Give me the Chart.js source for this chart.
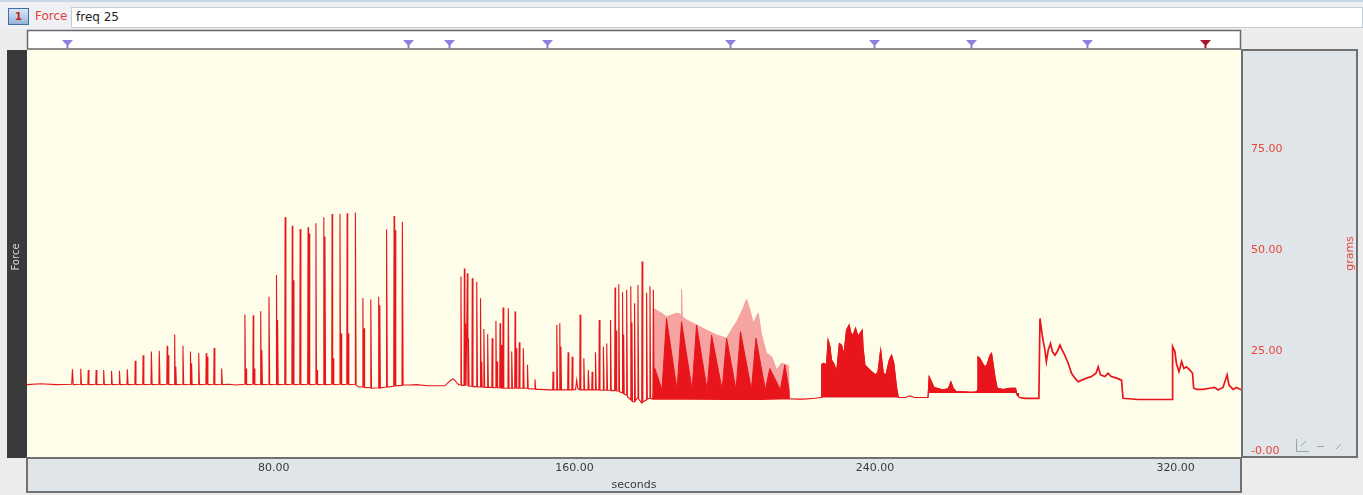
<!DOCTYPE html>
<html><head><meta charset="utf-8">
<script src="https://cdn.jsdelivr.net/npm/chart.js@4.4.1/dist/chart.umd.min.js"></script>
<style>
html,body{margin:0;padding:0;background:#ececec;width:1363px;height:495px;overflow:hidden;font-family:"DejaVu Sans",sans-serif;}
#hdr{position:absolute;left:0;top:0;width:1363px;height:29px;background:#eef0f3;border-top:2px solid #c9d6e4;box-sizing:border-box;z-index:2}
#icon{position:absolute;left:8px;top:6px;width:21px;height:17px;background:linear-gradient(#dbe8f5,#93b5da);border:1px solid #3f6fa5;box-sizing:border-box;color:#c61f1f;font:bold 10px "DejaVu Sans";text-align:center;line-height:15px}
#chan{position:absolute;left:35px;top:7px;color:#e0403c;font:12px "DejaVu Sans"}
#box{position:absolute;left:71px;top:5px;width:1292px;height:21px;background:#fff;border:1px solid #c3cbd3;box-sizing:border-box;font:12px "DejaVu Sans";padding:2px 4px;color:#1e1e1e}
canvas{position:absolute;left:0;top:0;z-index:1}
</style></head><body>
<div id="hdr"><div id="icon">1</div><div id="chan">Force</div><div id="box">freq 25</div></div>
<canvas id="c" width="1363" height="495"></canvas>
<script>
// ---- axis ticks ----
const xTickValues = [80, 160, 240, 320];
const yTickValues = [0, 25, 50, 75];
const yTickLabels = ['-0.00', '25.00', '50.00', '75.00'];
// ---- comment markers (seconds) ----
const markerTimes = [24.9, 115.7, 126.6, 152.7, 201.4, 239.7, 265.5, 296.4];
const activeMarkerTime = [327.8];

// ---- force trace, [seconds, grams] ----
const twitchTrain1 = [
 [14.3,16.6],[18,16.8],[22,16.6],[26.2,16.7],
 [26.4,20.4],[26.6,16.6],
 [28.5,16.7],[28.6,20.5],[28.8,16.6],
 [30.5,16.7],[30.6,20.2],[30.8,16.6],
 [32.6,16.7],[32.7,20.2],[32.9,16.6],
 [34.6,16.7],[34.7,20.2],[34.9,16.6],
 [36.7,16.7],[36.8,20.0],[37.0,16.6],
 [38.8,16.7],[38.9,20.0],[39.1,16.6],
 [40.9,16.7],[41.0,20.4],[41.2,16.6],
 [43.0,16.7],[43.1,22.5],[43.3,16.6],
 [45.1,16.7],[45.2,23.9],[45.4,16.6],
 [47.3,16.7],[47.4,24.8],[47.6,16.6],
 [49.4,16.7],[49.5,25.0],[49.7,16.6],
 [51.5,16.7],[51.6,26.2],[51.75,16.6],[51.9,23.9],[52.05,16.6],
 [53.5,16.7],[53.6,29.0],[53.75,16.6],[53.9,21.0],[54.05,16.6],
 [55.7,16.7],[55.8,26.2],[56.0,16.6],
 [57.7,16.7],[57.8,24.8],[57.95,16.6],[58.1,21.9],[58.25,16.6],
 [59.9,16.7],[60.0,24.4],[60.2,16.6],
 [61.9,16.7],[62.0,24.4],[62.15,16.6],[62.3,23.5],[62.45,16.6],
 [64.0,16.7],[64.1,25.7],[64.3,16.6],
 [66.0,16.7],[66.1,20.6],[66.3,16.6],
 [68,16.7],[70,16.5],
 [72.2,16.7],[72.3,34.0],[72.45,16.6],[72.6,20.6],[72.75,16.6],
 [74.4,16.7],[74.5,33.8],[74.65,16.6],[74.8,20.6],[74.95,16.6],
 [76.4,16.7],[76.5,34.8],[76.65,16.6],[76.8,25.2],[76.95,16.6],
 [78.6,16.7],[78.7,38.4],[78.9,16.6],
 [80.6,16.7],[80.7,43.8],[80.85,16.6],[81.0,32.6],[81.15,16.6],
 [82.9,16.7],[83.0,58.1],[83.2,16.6],
 [84.8,16.7],[84.9,56.0],[85.05,16.6],[85.2,42.5],[85.35,16.6],
 [86.9,16.7],[87.0,55.2],[87.2,16.6],
 [89.0,16.7],[89.1,55.6],[89.25,16.6],[89.4,54.1],[89.55,16.6],
 [91.1,16.7],[91.2,56.6],[91.35,16.6],[91.5,20.2],[91.65,16.6],
 [93.2,16.7],[93.3,58.1],[93.45,16.6],[93.6,53.3],[93.75,16.6],
 [95.4,16.7],[95.5,58.9],[95.65,16.6],[95.8,23.1],[95.95,16.6],
 [97.5,16.7],[97.6,58.9],[97.75,16.6],[97.9,29.3],[98.05,16.6],
 [99.4,16.7],[99.5,59.1],[99.65,16.6],[99.8,29.3],[99.95,16.6],
 [101.6,16.7],[101.7,59.3],[101.9,16.4],
 [102.8,16.0],
 [103.6,16.0],[103.7,38.1],[103.85,15.9],[104.0,30.6],[104.15,15.9],
 [105.7,15.8],[105.8,37.7],[106.0,15.7],
 [107.8,15.8],[107.9,38.4],[108.05,15.7],[108.2,36.3],[108.35,15.8],
 [109.9,16.0],[110.0,55.1],[110.2,16.0],
 [111.9,16.2],[112.0,58.4],[112.15,16.2],[112.3,54.9],[112.45,16.3],
 [114.1,16.4],[114.2,57.0],[114.4,16.5],
 [116,16.5],[118,16.6],[121,16.3],[124,16.3]
];
const twitchTrain2 = [
 [125.5,16.3],[126.3,17.0],[127.0,17.6],[127.7,18.0],[128.3,17.5],[128.7,17.0],[129.2,16.5],[129.7,16.6],
 [129.8,43.4],[129.95,16.4],
 [130.6,16.4],[130.7,45.4],[130.85,16.3],[131.0,31.8],[131.15,16.3],
 [131.4,16.3],[131.5,44.2],[131.65,16.2],[131.8,28.1],[131.95,16.2],
 [132.7,16.2],[132.8,43.0],[133.0,16.1],
 [133.9,16.1],[134.0,42.1],[134.2,16.0],
 [134.9,16.0],[135.0,38.0],[135.15,16.0],[135.3,22.3],[135.45,16.0],
 [135.8,16.0],[135.9,30.4],[136.1,15.9],
 [136.8,15.9],[136.9,29.1],[137.1,15.9],
 [138.0,15.9],[138.1,28.1],[138.3,15.8],
 [139.0,15.8],[139.1,32.4],[139.25,15.8],[139.4,22.3],[139.55,15.8],
 [140.1,15.8],[140.2,31.8],[140.35,15.7],[140.5,26.4],[140.65,15.7],
 [140.9,15.7],[141.0,35.7],[141.2,15.7],
 [142.3,15.7],[142.4,35.5],[142.6,15.7],
 [143.2,15.7],[143.3,24.8],[143.5,15.7],
 [144.1,15.7],[144.2,34.7],[144.35,15.7],[144.5,25.6],[144.65,15.7],
 [145.2,15.7],[145.3,27.1],[145.5,15.7],
 [146.3,15.7],[146.4,25.6],[146.6,15.7],
 [147.4,15.7],[147.5,21.5],[147.7,15.6],
 [149.4,15.5],[149.5,17.9],[149.7,15.4],
 [151,15.4],[153,15.3],
 [154.2,15.3],[154.3,19.8],[154.5,15.3],
 [155.2,15.3],[155.3,31.4],[155.5,15.3],
 [156.0,15.3],[156.1,31.8],[156.25,15.3],[156.4,26.0],[156.55,15.3],
 [158.2,15.3],[158.3,24.6],[158.5,15.3],
 [159.3,15.3],[159.4,23.5],[159.6,15.3],
 [160.3,15.4],[160.6,17.7],[160.9,15.6],
 [161.4,15.3],[161.5,33.9],[161.7,15.3],
 [162.4,15.3],[162.5,23.1],[162.7,15.3],
 [163.6,15.3],[163.7,20.2],[163.9,15.3],
 [164.6,15.3],[164.7,19.8],[164.9,15.3],
 [165.5,15.3],[165.6,24.6],[165.8,15.3],
 [166.5,15.3],[166.6,32.6],[166.8,15.2],
 [167.6,15.2],[167.7,26.0],[167.9,15.2],
 [168.5,15.2],[168.6,26.8],[168.8,15.2],
 [169.5,15.2],[169.6,32.6],[169.8,15.1],
 [170.7,15.1],[170.8,40.7],[170.95,15.0],[171.1,30.0],[171.25,15.0],
 [171.7,15.0],[171.8,41.5],[172.0,14.8],
 [172.7,14.6],[172.8,39.5],[172.95,14.4],[173.1,29.0],[173.25,14.2],
 [173.8,14.0],[173.9,40.1],[174.1,13.6],
 [174.9,12.9],[175.0,41.0],[175.15,12.6],[175.3,32.0],[175.45,12.4],
 [175.9,12.3],[176.0,36.8],[176.2,12.6],
 [176.8,13.3],[176.9,41.3],[177.1,13.0],
 [177.9,12.0],[178.0,47.1],[178.2,12.3],
 [179.1,12.8],[179.2,39.4],[179.4,13.0],
 [180.0,13.2],[180.1,41.0],[180.3,13.2],
 [180.9,13.0],[181.0,40.1],[181.2,13.0]
];
const tetanusBaseline = [
 [183,13.0],[190,13.0],[200,12.9],[210,12.9],[217.2,13.1],[219,13.0],[221,13.0],[224,13.2],[225.6,13.4]
];
const tetanusEnvelope = [
 [180.9,13.0],[181.0,35.5],[183.2,34.3],[184.5,33.4],[187.2,34.3],[188.4,34.0],[188.5,40.2],[188.7,33.5],
 [189.9,32.6],[192.5,31.4],[195.2,30.1],[197.8,28.9],[200.5,28.1],[202.3,31.0],[203.2,32.2],[204.9,35.5],
 [205.8,37.7],[206.7,35.1],[207.6,31.8],[208.9,34.3],[209.8,28.9],[211.1,24.4],[212.5,23.5],[213.8,20.2],
 [215.1,21.9],[216.5,21.5],[217.0,21.3],[217.2,13.4]
];
const tetanusTwitches = [
 [180.9,13.0],[181.4,20.6],[183.3,15.3],[184.5,33.0],[187.3,15.3],[188.5,32.2],[191.3,15.3],[192.5,31.4],
 [195.3,15.3],[196.5,28.9],[199.3,15.3],[200.5,28.1],[203.0,15.3],[204.2,29.7],[207.1,15.3],[208.3,28.1],
 [210.8,15.3],[212.0,20.6],[214.8,15.3],[216.0,21.5],[217.1,15.3],[217.2,13.2]
];
const burstA = [
 [225.7,13.4],[225.8,21.5],[226.2,21.9],[227.1,21.5],[227.5,27.7],[228.0,26.0],[228.4,22.7],[229.0,21.9],
 [229.8,19.8],[230.5,26.8],[231.1,26.4],[231.7,23.9],[232.4,30.1],[233.1,31.4],[233.6,29.3],[234.2,28.9],
 [234.8,30.6],[235.5,28.5],[236.0,29.3],[236.6,30.1],[236.8,26.0],[237.3,21.5],[238.2,20.6],[239.1,19.8],
 [240.2,19.0],[240.8,19.8],[241.5,25.2],[242.2,19.4],[242.9,19.0],[243.8,22.7],[244.4,23.9],[245.0,21.9],
 [245.7,16.1],[246.2,13.4]
];
const restBaseline = [[248,13.4],[249.3,13.8],[250.5,13.4],[253.9,13.4]];
const burstB = [
 [254.1,13.4],[254.4,18.6],[255.0,17.3],[255.7,15.9],[256.8,15.6],[258.1,15.25],[259.5,15.6],[260.2,17.3],
 [260.8,15.7],[261.7,14.8],[263.5,14.8],[265.7,14.7],[267.0,14.8],[267.3,15.25],[267.4,23.5],[267.9,23.1],
 [268.6,21.9],[269.2,21.0],[269.8,21.5],[270.6,23.9],[271.0,24.4],[271.4,21.9],[271.9,18.6],[272.5,15.7],
 [274.1,15.4],[275.9,15.7],[277.4,15.7],[277.8,14.0],[278.4,13.4]
];
const recoveryTrace = [
 [278.4,13.4],[280,13.2],[283.6,13.2],[283.9,33.0],[284.3,30.1],[284.7,27.7],[285.2,25.2],[285.6,22.3],[286.1,25.2],
 [286.7,26.8],[287.2,24.8],[287.9,23.9],[288.5,24.8],[289.2,26.4],[289.8,25.2],[290.5,23.9],[291.4,21.9],
 [292.3,19.4],[293.2,18.2],[294.1,17.3],[295.0,17.7],[296.3,18.2],[297.6,18.6],[298.8,19.4],[299.4,21.0],
 [300.0,19.0],[301.2,18.6],[302.0,19.4],[302.9,18.6],[304.3,18.2],[305.6,17.7],[306.0,13.2],[310,12.9],
 [315,12.9],[319.1,12.9],[319.2,26.0],[319.8,24.8],[320.2,21.9],[320.9,19.8],[321.6,22.3],[322.2,20.6],
 [322.9,21.0],[323.8,20.2],[324.5,19.4],[324.8,15.7],[325.6,15.4],[327.3,15.4],[329.1,15.7],[330.4,15.9],
 [331.3,15.25],[332.6,15.9],[333.7,19.0],[334.2,16.5],[335.3,15.4],[336.2,15.9],[337.6,15.25]
];
const forceTrace = twitchTrain1.concat(twitchTrain2, tetanusBaseline, burstA, restBaseline, burstB);

const RED = '#e8161c';
const panelPlugin = {
  id: 'panels',
  beforeDraw(chart) {
    const {ctx, chartArea: a} = chart;
    ctx.save();
    ctx.fillStyle = '#ffffff';
    ctx.fillRect(a.left, 30, a.right - a.left, 19);
    ctx.strokeStyle = '#6a6a6a'; ctx.lineWidth = 1.5;
    ctx.strokeRect(a.left + 0.5, 30.5, a.right - a.left - 1, 18.5);
    ctx.fillStyle = '#fdfde9';
    ctx.fillRect(a.left, a.top, a.right - a.left, a.bottom - a.top);
    ctx.fillStyle = '#3a3a3a';
    ctx.fillRect(7, a.top, a.left - 7, a.bottom - a.top + 1);
    ctx.fillStyle = '#dfe5e8';
    ctx.fillRect(a.right, a.top, 1357 - a.right, a.bottom - a.top);
    ctx.strokeStyle = '#707070'; ctx.lineWidth = 2;
    ctx.strokeRect(a.right + 1, a.top, 1357 - a.right - 1, a.bottom - a.top);
    ctx.fillStyle = '#dfe5e8';
    ctx.fillRect(a.left, a.bottom, a.right - a.left, 492 - a.bottom);
    ctx.strokeRect(a.left, a.bottom + 1, a.right - a.left, 492 - a.bottom - 1);
    ctx.restore();
  },
  afterDraw(chart) {
    const {ctx, chartArea: a} = chart;
    const xs = chart.scales.x;
    ctx.save();
    const tri = (t, col) => {
      const px = Math.round(xs.getPixelForValue(t)) + 0.5;
      ctx.fillStyle = col;
      ctx.beginPath();
      ctx.moveTo(px - 5.5, 40); ctx.lineTo(px + 5.5, 40); ctx.lineTo(px + 1, 45); ctx.lineTo(px + 1, 48);
      ctx.lineTo(px - 1, 48); ctx.lineTo(px - 1, 45); ctx.closePath(); ctx.fill();
    };
    markerTimes.forEach(t => tri(t, '#8a80de'));
    activeMarkerTime.forEach(t => tri(t, '#a3162c'));
    ctx.fillStyle = '#d8d8d8';
    ctx.font = '10px "DejaVu Sans"';
    ctx.textAlign = 'center'; ctx.textBaseline = 'middle';
    ctx.translate(16, 257); ctx.rotate(-Math.PI / 2); ctx.fillText('Force', 0, 0);
    ctx.setTransform(1, 0, 0, 1, 0, 0);
    ctx.fillStyle = '#e8463c';
    ctx.font = '11px "DejaVu Sans"';
    ctx.translate(1350, (a.top + a.bottom) / 2); ctx.rotate(-Math.PI / 2); ctx.fillText('grams', 0, 0);
    ctx.setTransform(1, 0, 0, 1, 0, 0);
    ctx.strokeStyle = '#9aa3a8'; ctx.lineWidth = 1;
    ctx.beginPath();
    ctx.moveTo(1296.5, 439); ctx.lineTo(1296.5, 451.5); ctx.lineTo(1309, 451.5);
    ctx.moveTo(1301, 446); ctx.lineTo(1306, 441);
    ctx.moveTo(1317, 446.5); ctx.lineTo(1324, 446.5);
    ctx.moveTo(1336, 449); ctx.lineTo(1341, 444);
    ctx.stroke();
    ctx.restore();
  }
};

new Chart(document.getElementById('c').getContext('2d'), {
  type: 'line',
  data: { datasets: [
    { label: 'Force', data: forceTrace, borderColor: RED, borderWidth: 1.1, pointRadius: 0, fill: false, order: 0 },
    { label: 'Force (recovery)', data: recoveryTrace, borderColor: RED, borderWidth: 1.7, pointRadius: 0, fill: false, order: 0 },
    { label: 'tetanus envelope', data: tetanusEnvelope, borderColor: '#f4a09e', backgroundColor: '#f5a4a2', borderWidth: 1, pointRadius: 0, fill: {value: 13.0}, order: 3 },
    { label: 'tetanus twitches', data: tetanusTwitches, borderColor: RED, backgroundColor: RED, borderWidth: 1, pointRadius: 0, fill: {value: 13.0}, order: 2 },
    { label: 'burst A', data: burstA, borderColor: RED, backgroundColor: RED, borderWidth: 1, pointRadius: 0, fill: {value: 13.4}, order: 1 },
    { label: 'burst B', data: burstB, borderColor: RED, backgroundColor: RED, borderWidth: 1, pointRadius: 0, fill: {value: 14.5}, order: 1 }
  ]},
  options: {
    responsive: false, animation: false, events: [],
    layout: { padding: { left: 27, top: 50, right: 6, bottom: 3 } },
    plugins: { legend: { display: false }, tooltip: { enabled: false } },
    elements: { line: { tension: 0 } },
    scales: {
      x: {
        type: 'linear', position: 'bottom', min: 14.3, max: 337.4,
        grid: { display: false, drawTicks: false }, border: { display: false },
        afterBuildTicks: s => { s.ticks = xTickValues.map(v => ({ value: v })); },
        afterFit: s => { s.height = 35; },
        ticks: { callback: v => Number(v).toFixed(2), color: '#3a3a3a', padding: 5, maxRotation: 0, autoSkip: false,
                 font: { family: 'DejaVu Sans', size: 11 } },
        title: { display: true, text: 'seconds', color: '#3a3a3a', padding: { top: 0, bottom: 0 },
                 font: { family: 'DejaVu Sans', size: 11 } }
      },
      y: {
        type: 'linear', position: 'right', min: -1.36, max: 99.58,
        grid: { display: false, drawTicks: false }, border: { display: false },
        afterBuildTicks: s => { s.ticks = yTickValues.map(v => ({ value: v })); },
        afterFit: s => { s.width = 116; },
        ticks: { callback: (v, i) => yTickLabels[i], color: '#e8463c', padding: 10,
                 font: { family: 'DejaVu Sans', size: 11 } }
      }
    }
  },
  plugins: [panelPlugin]
});
</script>
</body></html>
